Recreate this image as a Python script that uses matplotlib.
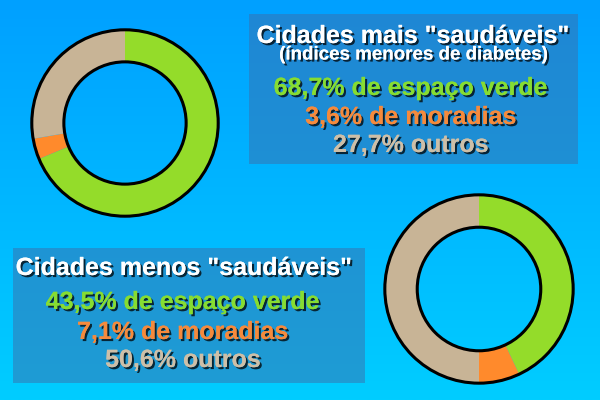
import numpy as np
import matplotlib.pyplot as plt
import matplotlib.patheffects as pe
from matplotlib.patches import Rectangle, Circle

plt.rcParams['font.family'] = ['Liberation Sans', 'DejaVu Sans']

# data
labels = ["espaço verde", "moradias", "outros"]
mais_saudaveis = [68.7, 3.6, 27.7]
menos_saudaveis = [43.5, 7.1, 50.6]
colors = ["#94dc2a", "#ff8a2c", "#c8b496"]
text_colors = ["#86dc32", "#f58a3c", "#cdbfa8"]

fig = plt.figure(figsize=(6, 4), dpi=100)

# background gradient
bg = fig.add_axes([0, 0, 1, 1])
grad = np.linspace(0, 1, 256).reshape(-1, 1)
top = np.array([0, 160, 255]) / 255
bot = np.array([0, 205, 255]) / 255
img = top + grad[:, :, None] * (bot - top)
bg.imshow(img, extent=[0, 600, 400, 0], aspect='auto')
bg.set_xlim(0, 600)
bg.set_ylim(400, 0)
bg.axis('off')

# boxes
bg.add_patch(Rectangle((249, 14), 329, 150, color=(60/255, 110/255, 170/255), alpha=0.5, lw=0))
bg.add_patch(Rectangle((13, 248), 352, 135, color=(60/255, 110/255, 170/255), alpha=0.5, lw=0))

shadow = [pe.withSimplePatchShadow(offset=(1.5, -1.5), shadow_rgbFace='black', alpha=0.75), pe.Normal()]


def put(x, y, s, c, size):
    bg.text(x, y, s, color=c, fontsize=size, fontweight='bold', ha='center', va='center',
            path_effects=shadow)


put(413, 36, 'Cidades mais "saudáveis"', 'white', 18)
put(413, 55, '(índices menores de diabetes)', 'white', 13.5)
for i, y in enumerate([88, 117, 145]):
    s = "%s%% %s" % (str(mais_saudaveis[i]).replace('.', ','), ("de " if i < 2 else "") + labels[i])
    put(411, y, s, text_colors[i], 18)

put(184, 268, 'Cidades menos "saudáveis"', 'white', 18)
for i, y in enumerate([302, 332, 360]):
    s = "%s%% %s" % (str(menos_saudaveis[i]).replace('.', ','), ("de " if i < 2 else "") + labels[i])
    put(183, y, s, text_colors[i], 18)


def donut(cx, cy, r, vals):
    ax = fig.add_axes([(cx - r) / 600, 1 - (cy + r) / 400, 2 * r / 600, 2 * r / 400])
    ax.pie(vals, colors=colors, startangle=90, counterclock=False, radius=1,
           wedgeprops=dict(width=0.344, linewidth=0))
    ax.add_patch(Circle((0, 0), 1, fill=False, lw=2.2, color='black'))
    ax.add_patch(Circle((0, 0), 0.656, fill=False, lw=2.2, color='black'))
    ax.set_xlim(-1.03, 1.03)
    ax.set_ylim(-1.03, 1.03)
    ax.set_aspect('equal')
    ax.axis('off')


donut(125, 123, 96, mais_saudaveis)
donut(479, 289, 97, menos_saudaveis)

fig.savefig('out.png', dpi=100)
